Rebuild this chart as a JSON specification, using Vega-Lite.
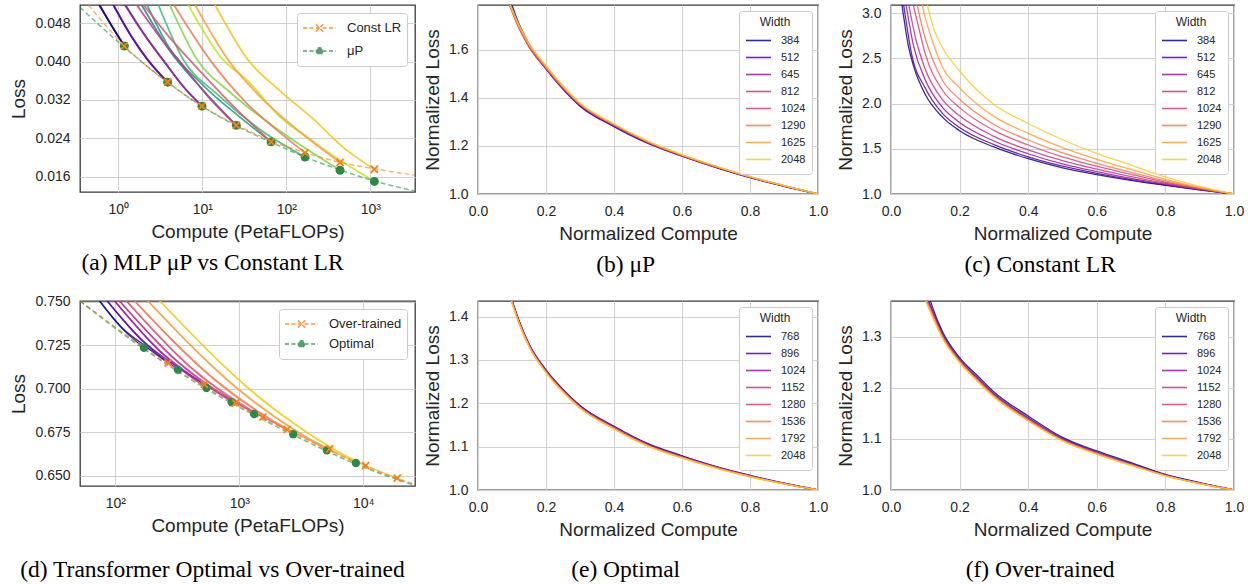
{
"$schema": "https://vega.github.io/schema/vega-lite/v6.json",
"background": "white",
"padding": {"left": 9, "top": 4, "right": 0, "bottom": 0},
"columns": 3,
"spacing": {"row": 16, "column": 6},
"align": "each",
"resolve": {"scale": {"color": "independent"}, "legend": {"color": "independent"}},
"config": {
  "font": "Liberation Sans",
  "view": {"stroke": "#3a3a3a", "strokeWidth": 1.3},
  "axis": {"grid": true, "gridColor": "#d0d0d0", "gridWidth": 1, "domain": false, "ticks": false, "labelFont": "Liberation Sans", "labelFontSize": 14, "labelColor": "#262626", "labelPadding": 10, "labelFlush": false, "labelOverlap": false, "titleFont": "Liberation Sans", "titleFontSize": 19, "titleFontWeight": "normal", "titleColor": "#262626", "titlePadding": 6},
  "legend": {"labelFont": "Liberation Sans", "titleFont": "Liberation Sans", "labelColor": "#262626", "titleColor": "#262626", "strokeColor": "#cccccc", "fillColor": "#ffffff", "cornerRadius": 3},
  "title": {"font": "Liberation Serif", "fontSize": 23.5, "fontWeight": "normal", "color": "#000000", "orient": "bottom", "anchor": "middle", "frame": "bounds", "offset": 10},
  "line": {"interpolate": "monotone"}
},
"datasets": {
  "aCurves": [
    {"k":"m384","x":0.6,"y":0.0518},{"k":"m384","x":0.86,"y":0.0471},{"k":"m384","x":1.18,"y":0.04325},
    {"k":"m512","x":0.88,"y":0.0518},{"k":"m512","x":1.42,"y":0.0454},{"k":"m512","x":2.2,"y":0.0406},{"k":"m512","x":3.87,"y":0.0357},
    {"k":"m645","x":1.22,"y":0.0518},{"k":"m645","x":2,"y":0.0459},{"k":"m645","x":3.5,"y":0.0401},{"k":"m645","x":6,"y":0.0347},{"k":"m645","x":9.9,"y":0.0307},
    {"k":"m812","x":1.9,"y":0.0518},{"k":"m812","x":4,"y":0.0425},{"k":"m812","x":10,"y":0.0342},{"k":"m812","x":25.4,"y":0.0267},
    {"k":"m1024","x":2.2,"y":0.0518},{"k":"m1024","x":4,"y":0.043},{"k":"m1024","x":10,"y":0.0352},{"k":"m1024","x":30,"y":0.028},{"k":"m1024","x":65.8,"y":0.02325},
    {"k":"m1290","x":3.0,"y":0.0518},{"k":"m1290","x":5.9,"y":0.0405},{"k":"m1290","x":15,"y":0.0332},{"k":"m1290","x":50,"y":0.0257},{"k":"m1290","x":167,"y":0.0201},
    {"k":"m1625","x":4.1,"y":0.0518},{"k":"m1625","x":8.6,"y":0.0405},{"k":"m1625","x":21.4,"y":0.0336},{"k":"m1625","x":84,"y":0.0255},{"k":"m1625","x":436,"y":0.01734},
    {"k":"m2048","x":6.8,"y":0.0518},{"k":"m2048","x":17.8,"y":0.0403},{"k":"m2048","x":33.8,"y":0.0362},{"k":"m2048","x":84,"y":0.0285},{"k":"m2048","x":210,"y":0.0233},{"k":"m2048","x":436,"y":0.0194},{"k":"m2048","x":1117,"y":0.015},
    {"k":"c384","x":0.59,"y":0.0518},{"k":"c384","x":0.85,"y":0.0472},{"k":"c384","x":1.18,"y":0.04325},
    {"k":"c512","x":0.87,"y":0.0518},{"k":"c512","x":1.4,"y":0.0455},{"k":"c512","x":2.2,"y":0.0405},{"k":"c512","x":3.87,"y":0.0357},
    {"k":"c645","x":1.2,"y":0.0518},{"k":"c645","x":2,"y":0.0458},{"k":"c645","x":3.5,"y":0.04},{"k":"c645","x":6,"y":0.0347},{"k":"c645","x":9.9,"y":0.0307},
    {"k":"c812","x":1.66,"y":0.0518},{"k":"c812","x":3,"y":0.0455},{"k":"c812","x":6,"y":0.039},{"k":"c812","x":12,"y":0.0325},{"k":"c812","x":25.4,"y":0.0267},
    {"k":"c1024","x":2,"y":0.0518},{"k":"c1024","x":4,"y":0.0452},{"k":"c1024","x":10,"y":0.0375},{"k":"c1024","x":25,"y":0.0302},{"k":"c1024","x":65.8,"y":0.02325},
    {"k":"c1290","x":4.6,"y":0.0518},{"k":"c1290","x":12.4,"y":0.0403},{"k":"c1290","x":33.8,"y":0.0313},{"k":"c1290","x":80,"y":0.0255},{"k":"c1290","x":167,"y":0.02096},
    {"k":"c1625","x":8.2,"y":0.0518},{"k":"c1625","x":20.4,"y":0.0403},{"k":"c1625","x":48.6,"y":0.0327},{"k":"c1625","x":146,"y":0.0253},{"k":"c1625","x":436,"y":0.01895},
    {"k":"c2048","x":14.2,"y":0.0518},{"k":"c2048","x":35.2,"y":0.0403},{"k":"c2048","x":84,"y":0.0339},{"k":"c2048","x":210,"y":0.028},{"k":"c2048","x":500,"y":0.0218},{"k":"c2048","x":1117,"y":0.01755}
  ],
  "aFit": [
    {"s":"Const LR","x":0.44,"y":0.0518},{"s":"Const LR","x":1.18,"y":0.0433},{"s":"Const LR","x":3.87,"y":0.0356},{"s":"Const LR","x":9.9,"y":0.0307},{"s":"Const LR","x":25.4,"y":0.0268},{"s":"Const LR","x":65.8,"y":0.0235},{"s":"Const LR","x":167,"y":0.021},{"s":"Const LR","x":436,"y":0.019},{"s":"Const LR","x":1117,"y":0.01765},{"s":"Const LR","x":3400,"y":0.0163},
    {"s":"μP","x":0.35,"y":0.0513},{"s":"μP","x":1.18,"y":0.043},{"s":"μP","x":3.87,"y":0.0357},{"s":"μP","x":9.9,"y":0.0307},{"s":"μP","x":25.4,"y":0.0266},{"s":"μP","x":65.8,"y":0.0232},{"s":"μP","x":167,"y":0.0201},{"s":"μP","x":436,"y":0.0174},{"s":"μP","x":1117,"y":0.0151},{"s":"μP","x":3400,"y":0.013}
  ],
  "aEnd": [
    {"s":"μP","x":1.18,"y":0.04325},{"s":"μP","x":3.87,"y":0.0357},{"s":"μP","x":9.9,"y":0.0307},{"s":"μP","x":25.4,"y":0.0267},{"s":"μP","x":65.8,"y":0.02325},{"s":"μP","x":167,"y":0.0201},{"s":"μP","x":436,"y":0.01734},{"s":"μP","x":1117,"y":0.015},
    {"s":"Const LR","x":1.18,"y":0.04325},{"s":"Const LR","x":3.87,"y":0.0357},{"s":"Const LR","x":9.9,"y":0.0307},{"s":"Const LR","x":25.4,"y":0.0267},{"s":"Const LR","x":65.8,"y":0.02325},{"s":"Const LR","x":167,"y":0.02096},{"s":"Const LR","x":436,"y":0.01895},{"s":"Const LR","x":1117,"y":0.01755}
  ],
  "bData": [
    {"w":"384","x":0.1,"y":1.785},{"w":"384","x":0.12,"y":1.71},{"w":"384","x":0.15,"y":1.625},{"w":"384","x":0.2,"y":1.52},{"w":"384","x":0.25,"y":1.435},{"w":"384","x":0.3,"y":1.365},{"w":"384","x":0.4,"y":1.28},{"w":"384","x":0.5,"y":1.21},{"w":"384","x":0.6,"y":1.157},{"w":"384","x":0.7,"y":1.11},{"w":"384","x":0.8,"y":1.068},{"w":"384","x":0.9,"y":1.032},{"w":"384","x":1,"y":1},
    {"w":"512","x":0.095,"y":1.785},{"w":"512","x":0.12,"y":1.7},{"w":"512","x":0.15,"y":1.615},{"w":"512","x":0.2,"y":1.52},{"w":"512","x":0.25,"y":1.438},{"w":"512","x":0.3,"y":1.368},{"w":"512","x":0.4,"y":1.282},{"w":"512","x":0.5,"y":1.212},{"w":"512","x":0.6,"y":1.158},{"w":"512","x":0.7,"y":1.112},{"w":"512","x":0.8,"y":1.069},{"w":"512","x":0.9,"y":1.033},{"w":"512","x":1,"y":1},
    {"w":"645","x":0.094,"y":1.785},{"w":"645","x":0.12,"y":1.695},{"w":"645","x":0.15,"y":1.613},{"w":"645","x":0.2,"y":1.522},{"w":"645","x":0.25,"y":1.44},{"w":"645","x":0.3,"y":1.37},{"w":"645","x":0.4,"y":1.284},{"w":"645","x":0.5,"y":1.214},{"w":"645","x":0.6,"y":1.159},{"w":"645","x":0.7,"y":1.112},{"w":"645","x":0.8,"y":1.07},{"w":"645","x":0.9,"y":1.034},{"w":"645","x":1,"y":1},
    {"w":"812","x":0.094,"y":1.785},{"w":"812","x":0.12,"y":1.698},{"w":"812","x":0.15,"y":1.617},{"w":"812","x":0.2,"y":1.524},{"w":"812","x":0.25,"y":1.441},{"w":"812","x":0.3,"y":1.372},{"w":"812","x":0.4,"y":1.286},{"w":"812","x":0.5,"y":1.215},{"w":"812","x":0.6,"y":1.16},{"w":"812","x":0.7,"y":1.113},{"w":"812","x":0.8,"y":1.07},{"w":"812","x":0.9,"y":1.034},{"w":"812","x":1,"y":1},
    {"w":"1024","x":0.093,"y":1.785},{"w":"1024","x":0.12,"y":1.69},{"w":"1024","x":0.15,"y":1.612},{"w":"1024","x":0.2,"y":1.522},{"w":"1024","x":0.25,"y":1.442},{"w":"1024","x":0.3,"y":1.372},{"w":"1024","x":0.4,"y":1.287},{"w":"1024","x":0.5,"y":1.216},{"w":"1024","x":0.6,"y":1.161},{"w":"1024","x":0.7,"y":1.114},{"w":"1024","x":0.8,"y":1.071},{"w":"1024","x":0.9,"y":1.034},{"w":"1024","x":1,"y":1},
    {"w":"1290","x":0.093,"y":1.785},{"w":"1290","x":0.12,"y":1.695},{"w":"1290","x":0.15,"y":1.618},{"w":"1290","x":0.2,"y":1.528},{"w":"1290","x":0.25,"y":1.445},{"w":"1290","x":0.3,"y":1.374},{"w":"1290","x":0.4,"y":1.288},{"w":"1290","x":0.5,"y":1.217},{"w":"1290","x":0.6,"y":1.162},{"w":"1290","x":0.7,"y":1.114},{"w":"1290","x":0.8,"y":1.071},{"w":"1290","x":0.9,"y":1.035},{"w":"1290","x":1,"y":1},
    {"w":"1625","x":0.094,"y":1.785},{"w":"1625","x":0.12,"y":1.7},{"w":"1625","x":0.15,"y":1.622},{"w":"1625","x":0.2,"y":1.53},{"w":"1625","x":0.25,"y":1.447},{"w":"1625","x":0.3,"y":1.376},{"w":"1625","x":0.4,"y":1.29},{"w":"1625","x":0.5,"y":1.218},{"w":"1625","x":0.6,"y":1.163},{"w":"1625","x":0.7,"y":1.115},{"w":"1625","x":0.8,"y":1.072},{"w":"1625","x":0.9,"y":1.035},{"w":"1625","x":1,"y":1},
    {"w":"2048","x":0.095,"y":1.785},{"w":"2048","x":0.12,"y":1.705},{"w":"2048","x":0.15,"y":1.627},{"w":"2048","x":0.2,"y":1.535},{"w":"2048","x":0.25,"y":1.45},{"w":"2048","x":0.3,"y":1.378},{"w":"2048","x":0.4,"y":1.292},{"w":"2048","x":0.5,"y":1.22},{"w":"2048","x":0.6,"y":1.164},{"w":"2048","x":0.7,"y":1.116},{"w":"2048","x":0.8,"y":1.072},{"w":"2048","x":0.9,"y":1.035},{"w":"2048","x":1,"y":1}
  ],
  "cData": [
    {"w":"384","x":0.032,"y":3.09},{"w":"384","x":0.05,"y":2.65},{"w":"384","x":0.067,"y":2.4},{"w":"384","x":0.1,"y":2.1},{"w":"384","x":0.15,"y":1.85},{"w":"384","x":0.2,"y":1.7},{"w":"384","x":0.3,"y":1.52},{"w":"384","x":0.4,"y":1.39},{"w":"384","x":0.5,"y":1.29},{"w":"384","x":0.6,"y":1.215},{"w":"384","x":0.7,"y":1.15},{"w":"384","x":0.8,"y":1.095},{"w":"384","x":0.9,"y":1.045},{"w":"384","x":1,"y":1},
    {"w":"512","x":0.037,"y":3.09},{"w":"512","x":0.06,"y":2.55},{"w":"512","x":0.1,"y":2.17},{"w":"512","x":0.15,"y":1.892},{"w":"512","x":0.2,"y":1.736},{"w":"512","x":0.3,"y":1.546},{"w":"512","x":0.4,"y":1.411},{"w":"512","x":0.5,"y":1.307},{"w":"512","x":0.6,"y":1.228},{"w":"512","x":0.7,"y":1.159},{"w":"512","x":0.8,"y":1.1},{"w":"512","x":0.9,"y":1.047},{"w":"512","x":1,"y":1},
    {"w":"645","x":0.044,"y":3.09},{"w":"645","x":0.065,"y":2.65},{"w":"645","x":0.1,"y":2.26},{"w":"645","x":0.15,"y":1.958},{"w":"645","x":0.2,"y":1.79},{"w":"645","x":0.3,"y":1.586},{"w":"645","x":0.4,"y":1.445},{"w":"645","x":0.5,"y":1.333},{"w":"645","x":0.6,"y":1.248},{"w":"645","x":0.7,"y":1.174},{"w":"645","x":0.8,"y":1.108},{"w":"645","x":0.9,"y":1.051},{"w":"645","x":1,"y":1},
    {"w":"812","x":0.052,"y":3.09},{"w":"812","x":0.07,"y":2.75},{"w":"812","x":0.1,"y":2.38},{"w":"812","x":0.15,"y":2.043},{"w":"812","x":0.2,"y":1.865},{"w":"812","x":0.3,"y":1.638},{"w":"812","x":0.4,"y":1.488},{"w":"812","x":0.5,"y":1.368},{"w":"812","x":0.6,"y":1.274},{"w":"812","x":0.7,"y":1.193},{"w":"812","x":0.8,"y":1.119},{"w":"812","x":0.9,"y":1.055},{"w":"812","x":1,"y":1},
    {"w":"1024","x":0.065,"y":3.09},{"w":"1024","x":0.08,"y":2.85},{"w":"1024","x":0.1,"y":2.55},{"w":"1024","x":0.15,"y":2.15},{"w":"1024","x":0.2,"y":1.955},{"w":"1024","x":0.3,"y":1.703},{"w":"1024","x":0.4,"y":1.542},{"w":"1024","x":0.5,"y":1.411},{"w":"1024","x":0.6,"y":1.307},{"w":"1024","x":0.7,"y":1.216},{"w":"1024","x":0.8,"y":1.132},{"w":"1024","x":0.9,"y":1.061},{"w":"1024","x":1,"y":1},
    {"w":"1290","x":0.076,"y":3.09},{"w":"1290","x":0.1,"y":2.72},{"w":"1290","x":0.12,"y":2.5},{"w":"1290","x":0.15,"y":2.258},{"w":"1290","x":0.2,"y":2.047},{"w":"1290","x":0.3,"y":1.769},{"w":"1290","x":0.4,"y":1.597},{"w":"1290","x":0.5,"y":1.454},{"w":"1290","x":0.6,"y":1.34},{"w":"1290","x":0.7,"y":1.24},{"w":"1290","x":0.8,"y":1.145},{"w":"1290","x":0.9,"y":1.066},{"w":"1290","x":1,"y":1},
    {"w":"1625","x":0.091,"y":3.09},{"w":"1625","x":0.1,"y":2.95},{"w":"1625","x":0.12,"y":2.7},{"w":"1625","x":0.15,"y":2.404},{"w":"1625","x":0.2,"y":2.174},{"w":"1625","x":0.3,"y":1.858},{"w":"1625","x":0.4,"y":1.671},{"w":"1625","x":0.5,"y":1.513},{"w":"1625","x":0.6,"y":1.384},{"w":"1625","x":0.7,"y":1.272},{"w":"1625","x":0.8,"y":1.163},{"w":"1625","x":0.9,"y":1.074},{"w":"1625","x":1,"y":1},
    {"w":"2048","x":0.106,"y":3.09},{"w":"2048","x":0.125,"y":2.82},{"w":"2048","x":0.15,"y":2.62},{"w":"2048","x":0.2,"y":2.36},{"w":"2048","x":0.3,"y":1.99},{"w":"2048","x":0.4,"y":1.78},{"w":"2048","x":0.5,"y":1.6},{"w":"2048","x":0.6,"y":1.45},{"w":"2048","x":0.7,"y":1.32},{"w":"2048","x":0.8,"y":1.19},{"w":"2048","x":0.9,"y":1.085},{"w":"2048","x":1,"y":1}
  ],
  "dCurves": [
    {"k":"v768","x":74.6,"y":0.7504},{"k":"v768","x":112.6,"y":0.7352},{"k":"v768","x":170,"y":0.725},{"k":"v768","x":266,"y":0.7148},
    {"k":"v896","x":86,"y":0.7504},{"k":"v896","x":166,"y":0.7277},{"k":"v896","x":320,"y":0.7122},{"k":"v896","x":523,"y":0.7025},
    {"k":"v1024","x":98.7,"y":0.7504},{"k":"v1024","x":232,"y":0.7214},{"k":"v1024","x":543,"y":0.7017},{"k":"v1024","x":931,"y":0.6918},
    {"k":"v1152","x":108,"y":0.7504},{"k":"v1152","x":306,"y":0.7168},{"k":"v1152","x":869,"y":0.6935},{"k":"v1152","x":1549,"y":0.6836},
    {"k":"v1280","x":123,"y":0.7504},{"k":"v1280","x":403,"y":0.7126},{"k":"v1280","x":1318,"y":0.6867},{"k":"v1280","x":2432,"y":0.6766},
    {"k":"v1536","x":143,"y":0.7504},{"k":"v1536","x":624,"y":0.7058},{"k":"v1536","x":2723,"y":0.6751},{"k":"v1536","x":5380,"y":0.6654},
    {"k":"v1792","x":183,"y":0.7504},{"k":"v1792","x":966,"y":0.7003},{"k":"v1792","x":5090,"y":0.6658},{"k":"v1792","x":10450,"y":0.6557},
    {"k":"v2048","x":228,"y":0.7504},{"k":"v2048","x":1413,"y":0.6959},{"k":"v2048","x":8730,"y":0.6585},{"k":"v2048","x":18850,"y":0.6485},
    {"k":"o768","x":74.6,"y":0.7504},{"k":"o768","x":112.6,"y":0.7348},{"k":"o768","x":170,"y":0.7235},
    {"k":"o896","x":86,"y":0.7504},{"k":"o896","x":166,"y":0.7272},{"k":"o896","x":320,"y":0.7109},
    {"k":"o1024","x":98.7,"y":0.7504},{"k":"o1024","x":232,"y":0.7209},{"k":"o1024","x":543,"y":0.7004},
    {"k":"o1152","x":108,"y":0.7504},{"k":"o1152","x":306,"y":0.7163},{"k":"o1152","x":869,"y":0.6922},
    {"k":"o1280","x":123,"y":0.7504},{"k":"o1280","x":403,"y":0.7121},{"k":"o1280","x":1318,"y":0.6854},
    {"k":"o1536","x":143,"y":0.7504},{"k":"o1536","x":624,"y":0.7053},{"k":"o1536","x":2723,"y":0.6738},
    {"k":"o1792","x":183,"y":0.7504},{"k":"o1792","x":966,"y":0.6998},{"k":"o1792","x":5090,"y":0.6645},
    {"k":"o2048","x":228,"y":0.7504},{"k":"o2048","x":1413,"y":0.6954},{"k":"o2048","x":8730,"y":0.6572}
  ],
  "dFit": [
    {"s":"Over-trained","x":51.8,"y":0.7505},{"s":"Over-trained","x":266,"y":0.7143},{"s":"Over-trained","x":931,"y":0.6913},{"s":"Over-trained","x":2432,"y":0.6762},{"s":"Over-trained","x":10450,"y":0.6553},{"s":"Over-trained","x":18850,"y":0.6483},{"s":"Over-trained","x":26200,"y":0.645},
    {"s":"Optimal","x":51.8,"y":0.7503},{"s":"Optimal","x":170,"y":0.7228},{"s":"Optimal","x":543,"y":0.6998},{"s":"Optimal","x":1318,"y":0.6848},{"s":"Optimal","x":2723,"y":0.6734},{"s":"Optimal","x":8730,"y":0.6566},{"s":"Optimal","x":26200,"y":0.6443}
  ],
  "dEnd": [
    {"s":"Optimal","x":170,"y":0.7235},{"s":"Optimal","x":320,"y":0.7109},{"s":"Optimal","x":543,"y":0.7004},{"s":"Optimal","x":869,"y":0.6922},{"s":"Optimal","x":1318,"y":0.6854},{"s":"Optimal","x":2723,"y":0.6738},{"s":"Optimal","x":5090,"y":0.6645},{"s":"Optimal","x":8730,"y":0.6572},
    {"s":"Over-trained","x":266,"y":0.7148},{"s":"Over-trained","x":523,"y":0.7025},{"s":"Over-trained","x":931,"y":0.6918},{"s":"Over-trained","x":1549,"y":0.6836},{"s":"Over-trained","x":2432,"y":0.6766},{"s":"Over-trained","x":5380,"y":0.6654},{"s":"Over-trained","x":10450,"y":0.6557},{"s":"Over-trained","x":18850,"y":0.6485}
  ],
  "eData": [
    {"w":"768","x":0.101,"y":1.436},{"w":"768","x":0.12,"y":1.392},{"w":"768","x":0.15,"y":1.337},{"w":"768","x":0.2,"y":1.277},{"w":"768","x":0.25,"y":1.232},{"w":"768","x":0.3,"y":1.195},{"w":"768","x":0.4,"y":1.147},{"w":"768","x":0.5,"y":1.107},{"w":"768","x":0.6,"y":1.079},{"w":"768","x":0.7,"y":1.054},{"w":"768","x":0.8,"y":1.034},{"w":"768","x":0.9,"y":1.016},{"w":"768","x":1,"y":1},
    {"w":"896","x":0.1,"y":1.436},{"w":"896","x":0.12,"y":1.391},{"w":"896","x":0.15,"y":1.336},{"w":"896","x":0.2,"y":1.276},{"w":"896","x":0.25,"y":1.231},{"w":"896","x":0.3,"y":1.194},{"w":"896","x":0.4,"y":1.146},{"w":"896","x":0.5,"y":1.106},{"w":"896","x":0.6,"y":1.078},{"w":"896","x":0.7,"y":1.054},{"w":"896","x":0.8,"y":1.033},{"w":"896","x":0.9,"y":1.015},{"w":"896","x":1,"y":1},
    {"w":"1024","x":0.1,"y":1.436},{"w":"1024","x":0.12,"y":1.39},{"w":"1024","x":0.15,"y":1.335},{"w":"1024","x":0.2,"y":1.275},{"w":"1024","x":0.25,"y":1.23},{"w":"1024","x":0.3,"y":1.193},{"w":"1024","x":0.4,"y":1.145},{"w":"1024","x":0.5,"y":1.105},{"w":"1024","x":0.6,"y":1.077},{"w":"1024","x":0.7,"y":1.053},{"w":"1024","x":0.8,"y":1.033},{"w":"1024","x":0.9,"y":1.015},{"w":"1024","x":1,"y":1},
    {"w":"1152","x":0.099,"y":1.436},{"w":"1152","x":0.12,"y":1.389},{"w":"1152","x":0.15,"y":1.334},{"w":"1152","x":0.2,"y":1.274},{"w":"1152","x":0.25,"y":1.229},{"w":"1152","x":0.3,"y":1.192},{"w":"1152","x":0.4,"y":1.144},{"w":"1152","x":0.5,"y":1.104},{"w":"1152","x":0.6,"y":1.076},{"w":"1152","x":0.7,"y":1.052},{"w":"1152","x":0.8,"y":1.032},{"w":"1152","x":0.9,"y":1.015},{"w":"1152","x":1,"y":1},
    {"w":"1280","x":0.099,"y":1.436},{"w":"1280","x":0.12,"y":1.388},{"w":"1280","x":0.15,"y":1.333},{"w":"1280","x":0.2,"y":1.273},{"w":"1280","x":0.25,"y":1.228},{"w":"1280","x":0.3,"y":1.191},{"w":"1280","x":0.4,"y":1.143},{"w":"1280","x":0.5,"y":1.103},{"w":"1280","x":0.6,"y":1.076},{"w":"1280","x":0.7,"y":1.052},{"w":"1280","x":0.8,"y":1.032},{"w":"1280","x":0.9,"y":1.015},{"w":"1280","x":1,"y":1},
    {"w":"1536","x":0.099,"y":1.436},{"w":"1536","x":0.12,"y":1.387},{"w":"1536","x":0.15,"y":1.332},{"w":"1536","x":0.2,"y":1.272},{"w":"1536","x":0.25,"y":1.227},{"w":"1536","x":0.3,"y":1.19},{"w":"1536","x":0.4,"y":1.142},{"w":"1536","x":0.5,"y":1.102},{"w":"1536","x":0.6,"y":1.075},{"w":"1536","x":0.7,"y":1.051},{"w":"1536","x":0.8,"y":1.031},{"w":"1536","x":0.9,"y":1.014},{"w":"1536","x":1,"y":1},
    {"w":"1792","x":0.098,"y":1.436},{"w":"1792","x":0.12,"y":1.386},{"w":"1792","x":0.15,"y":1.331},{"w":"1792","x":0.2,"y":1.271},{"w":"1792","x":0.25,"y":1.226},{"w":"1792","x":0.3,"y":1.189},{"w":"1792","x":0.4,"y":1.141},{"w":"1792","x":0.5,"y":1.102},{"w":"1792","x":0.6,"y":1.074},{"w":"1792","x":0.7,"y":1.051},{"w":"1792","x":0.8,"y":1.031},{"w":"1792","x":0.9,"y":1.014},{"w":"1792","x":1,"y":1},
    {"w":"2048","x":0.098,"y":1.436},{"w":"2048","x":0.12,"y":1.386},{"w":"2048","x":0.15,"y":1.331},{"w":"2048","x":0.2,"y":1.271},{"w":"2048","x":0.25,"y":1.226},{"w":"2048","x":0.3,"y":1.189},{"w":"2048","x":0.4,"y":1.141},{"w":"2048","x":0.5,"y":1.101},{"w":"2048","x":0.6,"y":1.074},{"w":"2048","x":0.7,"y":1.05},{"w":"2048","x":0.8,"y":1.031},{"w":"2048","x":0.9,"y":1.014},{"w":"2048","x":1,"y":1}
  ],
  "fData": [
    {"w":"768","x":0.115,"y":1.37},{"w":"768","x":0.12,"y":1.36},{"w":"768","x":0.15,"y":1.31},{"w":"768","x":0.2,"y":1.259},{"w":"768","x":0.25,"y":1.225},{"w":"768","x":0.3,"y":1.192},{"w":"768","x":0.4,"y":1.145},{"w":"768","x":0.5,"y":1.103},{"w":"768","x":0.6,"y":1.0765},{"w":"768","x":0.7,"y":1.0535},{"w":"768","x":0.8,"y":1.0306},{"w":"768","x":0.9,"y":1.0143},{"w":"768","x":1,"y":1},
    {"w":"896","x":0.11,"y":1.37},{"w":"896","x":0.12,"y":1.353},{"w":"896","x":0.15,"y":1.3055},{"w":"896","x":0.2,"y":1.2557},{"w":"896","x":0.25,"y":1.2212},{"w":"896","x":0.3,"y":1.1885},{"w":"896","x":0.4,"y":1.1415},{"w":"896","x":0.5,"y":1.1006},{"w":"896","x":0.6,"y":1.0742},{"w":"896","x":0.7,"y":1.0516},{"w":"896","x":0.8,"y":1.0296},{"w":"896","x":0.9,"y":1.0136},{"w":"896","x":1,"y":1},
    {"w":"1024","x":0.108,"y":1.37},{"w":"1024","x":0.12,"y":1.35},{"w":"1024","x":0.15,"y":1.3035},{"w":"1024","x":0.2,"y":1.2543},{"w":"1024","x":0.25,"y":1.2195},{"w":"1024","x":0.3,"y":1.187},{"w":"1024","x":0.4,"y":1.14},{"w":"1024","x":0.5,"y":1.0995},{"w":"1024","x":0.6,"y":1.0733},{"w":"1024","x":0.7,"y":1.0508},{"w":"1024","x":0.8,"y":1.0291},{"w":"1024","x":0.9,"y":1.0134},{"w":"1024","x":1,"y":1},
    {"w":"1152","x":0.106,"y":1.37},{"w":"1152","x":0.12,"y":1.348},{"w":"1152","x":0.15,"y":1.3022},{"w":"1152","x":0.2,"y":1.2534},{"w":"1152","x":0.25,"y":1.2184},{"w":"1152","x":0.3,"y":1.186},{"w":"1152","x":0.4,"y":1.139},{"w":"1152","x":0.5,"y":1.0988},{"w":"1152","x":0.6,"y":1.0726},{"w":"1152","x":0.7,"y":1.0502},{"w":"1152","x":0.8,"y":1.0288},{"w":"1152","x":0.9,"y":1.0132},{"w":"1152","x":1,"y":1},
    {"w":"1280","x":0.105,"y":1.37},{"w":"1280","x":0.12,"y":1.346},{"w":"1280","x":0.15,"y":1.3009},{"w":"1280","x":0.2,"y":1.2524},{"w":"1280","x":0.25,"y":1.2173},{"w":"1280","x":0.3,"y":1.185},{"w":"1280","x":0.4,"y":1.138},{"w":"1280","x":0.5,"y":1.0981},{"w":"1280","x":0.6,"y":1.072},{"w":"1280","x":0.7,"y":1.0497},{"w":"1280","x":0.8,"y":1.0285},{"w":"1280","x":0.9,"y":1.0129},{"w":"1280","x":1,"y":1},
    {"w":"1536","x":0.104,"y":1.37},{"w":"1536","x":0.12,"y":1.344},{"w":"1536","x":0.15,"y":1.2996},{"w":"1536","x":0.2,"y":1.2515},{"w":"1536","x":0.25,"y":1.2162},{"w":"1536","x":0.3,"y":1.184},{"w":"1536","x":0.4,"y":1.137},{"w":"1536","x":0.5,"y":1.0974},{"w":"1536","x":0.6,"y":1.0713},{"w":"1536","x":0.7,"y":1.0491},{"w":"1536","x":0.8,"y":1.0282},{"w":"1536","x":0.9,"y":1.0127},{"w":"1536","x":1,"y":1},
    {"w":"1792","x":0.102,"y":1.37},{"w":"1792","x":0.12,"y":1.342},{"w":"1792","x":0.15,"y":1.2983},{"w":"1792","x":0.2,"y":1.2505},{"w":"1792","x":0.25,"y":1.2151},{"w":"1792","x":0.3,"y":1.183},{"w":"1792","x":0.4,"y":1.136},{"w":"1792","x":0.5,"y":1.0967},{"w":"1792","x":0.6,"y":1.0707},{"w":"1792","x":0.7,"y":1.0486},{"w":"1792","x":0.8,"y":1.0278},{"w":"1792","x":0.9,"y":1.0126},{"w":"1792","x":1,"y":1},
    {"w":"2048","x":0.101,"y":1.37},{"w":"2048","x":0.12,"y":1.34},{"w":"2048","x":0.15,"y":1.297},{"w":"2048","x":0.2,"y":1.2496},{"w":"2048","x":0.25,"y":1.214},{"w":"2048","x":0.3,"y":1.182},{"w":"2048","x":0.4,"y":1.135},{"w":"2048","x":0.5,"y":1.096},{"w":"2048","x":0.6,"y":1.07},{"w":"2048","x":0.7,"y":1.048},{"w":"2048","x":0.8,"y":1.0275},{"w":"2048","x":0.9,"y":1.0124},{"w":"2048","x":1,"y":1}
  ]
},
"concat": [
    {"width": 335, "height": 187,
     "title": {"text": "(a) MLP μP vs Constant LR", "offset": 10},
     "resolve": {"scale": {"color": "independent"}},
     "layer": [
       {"data": {"name": "aCurves"},
        "mark": {"type": "line", "clip": true, "strokeWidth": 1.8, "opacity": 0.85},
        "encoding": {
          "x": {"field": "x", "type": "quantitative", "scale": {"type": "log", "domain": [0.35, 3400], "nice": false}, "axis": {"title": "Compute (PetaFLOPs)", "values": [1, 10, 100, 1000], "labelExpr": "datum.value == 1 ? '10⁰' : datum.value == 10 ? '10¹' : datum.value == 100 ? '10²' : '10³'"}},
          "y": {"field": "y", "type": "quantitative", "scale": {"domain": [0.0128, 0.0518], "zero": false, "nice": false}, "axis": {"title": "Loss", "values": [0.016, 0.024, 0.032, 0.04, 0.048], "format": ".3f"}},
          "color": {"field": "k", "type": "nominal", "legend": null, "scale": {
            "domain": ["m384","m512","m645","m812","m1024","m1290","m1625","m2048","c384","c512","c645","c812","c1024","c1290","c1625","c2048"],
            "range": ["#440154","#46327e","#365c8d","#277f8e","#1fa187","#3fbc73","#84d44b","#c8e020","#0d0887","#5c01a6","#9c179e","#bd3786","#d8576b","#ed7953","#fb9f3a","#f5c518"]}}
        }},
       {"data": {"name": "aFit"},
        "mark": {"type": "line", "clip": true, "strokeDash": [5, 3], "strokeWidth": 1.5, "opacity": 0.6},
        "encoding": {
          "x": {"field": "x", "type": "quantitative"},
          "y": {"field": "y", "type": "quantitative"},
          "color": {"field": "s", "type": "nominal", "scale": {"domain": ["Const LR", "μP"], "range": ["#ff7f0e", "#2a8a48"]},
            "legend": {"title": null, "orient": "top-right", "offset": 8, "symbolSize": 1089, "clipHeight": 20, "rowPadding": 3, "symbolStrokeWidth": 1.5, "symbolDash": [4, 2.5], "symbolOpacity": 0.8, "labelFontSize": 13, "labelOffset": 10, "padding": 5,
              "encode": {"symbols": {"update": {
                "shape": {"signal": "datum.value === 'Const LR' ? 'M-1,0H1M-0.22,-0.22L0.22,0.22M-0.22,0.22L0.22,-0.22' : 'M-1,0H1M-0.2,0A0.2,0.2,0,1,0,0.2,0A0.2,0.2,0,1,0,-0.2,0'"},
                "fill": {"signal": "datum.value === 'Const LR' ? 'transparent' : '#2a8a48'"}}}}}}
        }},
       {"data": {"name": "aEnd"}, "transform": [{"filter": "datum.s !== 'Const LR'"}],
        "mark": {"type": "point", "shape": "circle", "filled": true, "size": 80, "color": "#2a8a48", "opacity": 1, "clip": true},
        "encoding": {"x": {"field": "x", "type": "quantitative"}, "y": {"field": "y", "type": "quantitative"}}},
       {"data": {"name": "aEnd"}, "transform": [{"filter": "datum.s === 'Const LR'"}],
        "mark": {"type": "point", "shape": "M-1,-1L1,1M-1,1L1,-1", "filled": false, "size": 50, "strokeWidth": 1.8, "color": "#ff7f0e", "opacity": 1, "clip": true},
        "encoding": {"x": {"field": "x", "type": "quantitative"}, "y": {"field": "y", "type": "quantitative"}}}
     ]},
      {"width": 340, "height": 189,
       "title": {"text": "(b) μP", "offset": 10},
       "data": {"name": "bData"},
       "mark": {"type": "line", "clip": true, "strokeWidth": 1.3, "opacity": 0.85},
       "encoding": {
         "x": {"field": "x", "type": "quantitative", "scale": {"domain": [0, 1], "nice": false}, "axis": {"title": "Normalized Compute", "values": [0, 0.2, 0.4, 0.6, 0.8, 1], "format": ".1f"}},
         "y": {"field": "y", "type": "quantitative", "scale": {"domain": [1, 1.786], "nice": false, "zero": false}, "axis": {"title": "Normalized Loss", "values": [1, 1.2, 1.4, 1.6], "format": ".1f"}},
         "color": {"field": "w", "type": "nominal", "scale": {"domain": ["384","512","645","812","1024","1290","1625","2048"], "range": ["#0d0887","#5c01a6","#9c179e","#bd3786","#d8456c","#ed7953","#fb9f3a","#fdca26"]},
           "legend": {"title": "Width", "orient": "top-right", "offset": 6, "symbolType": "stroke", "symbolSize": 625, "symbolStrokeWidth": 1.6, "symbolOpacity": 0.85, "clipHeight": 17, "rowPadding": 0, "labelFontSize": 11, "titleFontSize": 12, "titleFontWeight": "normal", "titleAnchor": "middle", "titlePadding": 3, "padding": 6, "labelOffset": 9}}
       }},
      {"width": 343, "height": 189,
       "title": {"text": "(c) Constant LR", "offset": 10},
       "data": {"name": "cData"},
       "mark": {"type": "line", "clip": true, "strokeWidth": 1.3, "opacity": 0.85},
       "encoding": {
         "x": {"field": "x", "type": "quantitative", "scale": {"domain": [0, 1], "nice": false}, "axis": {"title": "Normalized Compute", "values": [0, 0.2, 0.4, 0.6, 0.8, 1], "format": ".1f"}},
         "y": {"field": "y", "type": "quantitative", "scale": {"domain": [1, 3.09], "nice": false, "zero": false}, "axis": {"title": "Normalized Loss", "values": [1, 1.5, 2, 2.5, 3], "format": ".1f"}},
         "color": {"field": "w", "type": "nominal", "scale": {"domain": ["384","512","645","812","1024","1290","1625","2048"], "range": ["#0d0887","#5c01a6","#9c179e","#bd3786","#d8456c","#ed7953","#fb9f3a","#fdca26"]},
           "legend": {"title": "Width", "orient": "top-right", "offset": 6, "symbolType": "stroke", "symbolSize": 625, "symbolStrokeWidth": 1.6, "symbolOpacity": 0.85, "clipHeight": 17, "rowPadding": 0, "labelFontSize": 11, "titleFontSize": 12, "titleFontWeight": "normal", "titleAnchor": "middle", "titlePadding": 3, "padding": 6, "labelOffset": 9}}
       }},
    {"width": 335, "height": 185,
     "title": {"text": "(d) Transformer Optimal vs Over-trained", "offset": 23},
     "resolve": {"scale": {"color": "independent"}},
     "layer": [
       {"data": {"name": "dCurves"},
        "mark": {"type": "line", "clip": true, "strokeWidth": 1.4, "opacity": 0.8},
        "encoding": {
          "x": {"field": "x", "type": "quantitative", "scale": {"type": "log", "domain": [51.8, 26200], "nice": false}, "axis": {"title": "Compute (PetaFLOPs)", "values": [100, 1000, 10000], "labelExpr": "datum.value == 100 ? '10²' : datum.value == 1000 ? '10³' : '10⁴'"}},
          "y": {"field": "y", "type": "quantitative", "scale": {"domain": [0.644, 0.7504], "zero": false, "nice": false}, "axis": {"title": "Loss", "values": [0.65, 0.675, 0.7, 0.725, 0.75], "format": ".3f"}},
          "color": {"field": "k", "type": "nominal", "legend": null, "scale": {
            "domain": ["v768","v896","v1024","v1152","v1280","v1536","v1792","v2048","o768","o896","o1024","o1152","o1280","o1536","o1792","o2048"],
            "range": ["#0d0887","#5c01a6","#9c179e","#bd3786","#d8576b","#ed7953","#c9b060","#f5c518","#0d0887","#5c01a6","#9c179e","#bd3786","#d8576b","#ed7953","#fb9f3a","#f0d020"]}}
        }},
       {"data": {"name": "dFit"},
        "mark": {"type": "line", "clip": true, "strokeDash": [5, 3], "strokeWidth": 1.5, "opacity": 0.6},
        "encoding": {
          "x": {"field": "x", "type": "quantitative"},
          "y": {"field": "y", "type": "quantitative"},
          "color": {"field": "s", "type": "nominal", "scale": {"domain": ["Over-trained", "Optimal"], "range": ["#ff7f0e", "#2a8a48"]},
            "legend": {"title": null, "orient": "top-right", "offset": 8, "symbolSize": 1089, "clipHeight": 20, "rowPadding": 0, "symbolStrokeWidth": 1.5, "symbolDash": [4, 2.5], "symbolOpacity": 0.8, "labelFontSize": 13, "labelOffset": 10, "padding": 5,
              "encode": {"symbols": {"update": {
                "shape": {"signal": "datum.value === 'Over-trained' ? 'M-1,0H1M-0.22,-0.22L0.22,0.22M-0.22,0.22L0.22,-0.22' : 'M-1,0H1M-0.2,0A0.2,0.2,0,1,0,0.2,0A0.2,0.2,0,1,0,-0.2,0'"},
                "fill": {"signal": "datum.value === 'Over-trained' ? 'transparent' : '#2a8a48'"}}}}}}
        }},
       {"data": {"name": "dEnd"}, "transform": [{"filter": "datum.s === 'Optimal'"}],
        "mark": {"type": "point", "shape": "circle", "filled": true, "size": 70, "color": "#2a8a48", "opacity": 1, "clip": true},
        "encoding": {"x": {"field": "x", "type": "quantitative"}, "y": {"field": "y", "type": "quantitative"}}},
       {"data": {"name": "dEnd"}, "transform": [{"filter": "datum.s === 'Over-trained'"}],
        "mark": {"type": "point", "shape": "M-1,-1L1,1M-1,1L1,-1", "filled": false, "size": 50, "strokeWidth": 1.8, "color": "#ff7f0e", "opacity": 1, "clip": true},
        "encoding": {"x": {"field": "x", "type": "quantitative"}, "y": {"field": "y", "type": "quantitative"}}}
     ]},
      {"width": 340, "height": 189,
       "title": {"text": "(e) Optimal", "offset": 19},
       "data": {"name": "eData"},
       "mark": {"type": "line", "clip": true, "strokeWidth": 1.3, "opacity": 0.85},
       "encoding": {
         "x": {"field": "x", "type": "quantitative", "scale": {"domain": [0, 1], "nice": false}, "axis": {"title": "Normalized Compute", "values": [0, 0.2, 0.4, 0.6, 0.8, 1], "format": ".1f"}},
         "y": {"field": "y", "type": "quantitative", "scale": {"domain": [1, 1.436], "nice": false, "zero": false}, "axis": {"title": "Normalized Loss", "values": [1, 1.1, 1.2, 1.3, 1.4], "format": ".1f"}},
         "color": {"field": "w", "type": "nominal", "scale": {"domain": ["768","896","1024","1152","1280","1536","1792","2048"], "range": ["#0d0887","#5c01a6","#9c179e","#bd3786","#d8456c","#ed7953","#fb9f3a","#fdca26"]},
           "legend": {"title": "Width", "orient": "top-right", "offset": 6, "symbolType": "stroke", "symbolSize": 625, "symbolStrokeWidth": 1.6, "symbolOpacity": 0.85, "clipHeight": 17, "rowPadding": 0, "labelFontSize": 11, "titleFontSize": 12, "titleFontWeight": "normal", "titleAnchor": "middle", "titlePadding": 3, "padding": 6, "labelOffset": 9}}
       }},
      {"width": 343, "height": 189,
       "title": {"text": "(f) Over-trained", "offset": 19},
       "data": {"name": "fData"},
       "mark": {"type": "line", "clip": true, "strokeWidth": 1.3, "opacity": 0.85},
       "encoding": {
         "x": {"field": "x", "type": "quantitative", "scale": {"domain": [0, 1], "nice": false}, "axis": {"title": "Normalized Compute", "values": [0, 0.2, 0.4, 0.6, 0.8, 1], "format": ".1f"}},
         "y": {"field": "y", "type": "quantitative", "scale": {"domain": [1, 1.37], "nice": false, "zero": false}, "axis": {"title": "Normalized Loss", "values": [1, 1.1, 1.2, 1.3], "format": ".1f"}},
         "color": {"field": "w", "type": "nominal", "scale": {"domain": ["768","896","1024","1152","1280","1536","1792","2048"], "range": ["#0d0887","#5c01a6","#9c179e","#bd3786","#d8456c","#ed7953","#fb9f3a","#fdca26"]},
           "legend": {"title": "Width", "orient": "top-right", "offset": 6, "symbolType": "stroke", "symbolSize": 625, "symbolStrokeWidth": 1.6, "symbolOpacity": 0.85, "clipHeight": 17, "rowPadding": 0, "labelFontSize": 11, "titleFontSize": 12, "titleFontWeight": "normal", "titleAnchor": "middle", "titlePadding": 3, "padding": 6, "labelOffset": 9}}
       }}
]
}
